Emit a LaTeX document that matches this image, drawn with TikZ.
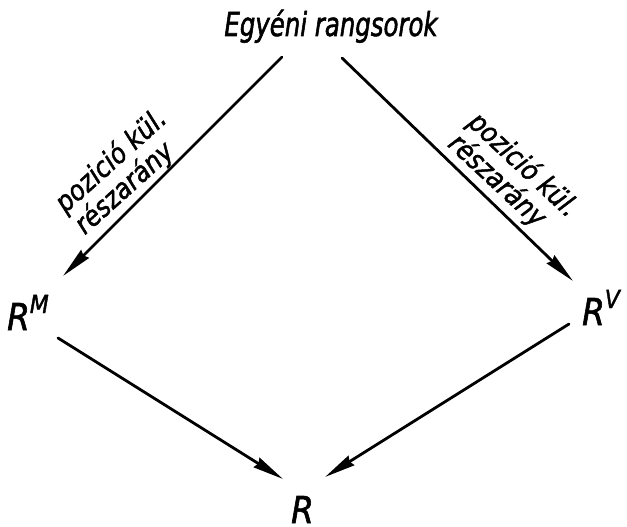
\documentclass[tikz,border=0pt]{standalone}
\usepackage{fontspec}
\usepackage{tikz}
\usetikzlibrary{arrows.meta}
\newfontfamily\letterfont{DejaVu Sans}[FakeStretch=0.88, FakeBold=1.6]
\newfontfamily\titlefont{DejaVu Sans}[FakeStretch=0.74, FakeBold=1.6]

\begin{document}
\begin{tikzpicture}[
  x=1pt, y=1pt,
  >=Stealth,
  lettering/.style={inner sep=0pt, font=\letterfont\itshape},
  bigletter/.style={lettering, anchor=base west,
    font=\letterfont\itshape\fontsize{37}{40}\selectfont},
  rankarrow/.style={->, line width=2.8pt, line cap=round,
    arrows={-Stealth[length=31pt, width=11pt, inset=2pt]}},
  arrowlabel/.style={lettering, align=left,
    font=\letterfont\itshape\fontsize{28}{27}\selectfont}
]
  \useasboundingbox (0,0) rectangle (627,-527);

  % Rankings and their results
  \node[lettering, anchor=base, font=\titlefont\itshape\fontsize{33}{36}\selectfont] (top) at (331,-36) {Egyéni rangsorok};
  \node[bigletter] (rm) at (7,-330) {R\raisebox{17pt}{\fontsize{25}{25}\selectfont M}};
  \node[bigletter] (rv) at (582,-325) {R\raisebox{17pt}{\fontsize{25}{25}\selectfont V}};
  \node[bigletter] (r) at (291,-523) {R};

  % Connectors
  \draw[rankarrow] ([shift={(-49,-21)}]top.base) -- ([shift={(56,54)}]rm.base west);
  \draw[rankarrow] ([shift={(11,-22)}]top.base) -- ([shift={(-9,44)}]rv.base west);
  \draw[rankarrow] ([shift={(51,-8)}]rm.base west) -- ([shift={(-8,44)}]r.base west);
  \draw[rankarrow] ([shift={(-13,1)}]rv.base west) -- ([shift={(34,46)}]r.base west);

  % Labels along the upper arrows
  \node[arrowlabel, rotate=42] (lablm) at (121,-172) {pozició kül.\\részarány};
  \node[arrowlabel, rotate=-43] (lablv) at (513,-176) {pozició kül.\\részarány};
\end{tikzpicture}
\end{document}
